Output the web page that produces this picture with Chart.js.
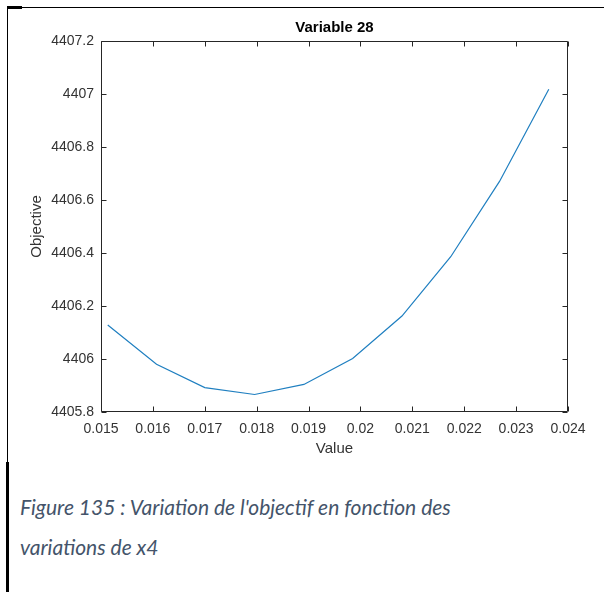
<!DOCTYPE html>
<html>
<head>
<meta charset="utf-8">
<script src="https://cdn.jsdelivr.net/npm/chart.js@4"></script>
<style>
  html, body { margin: 0; padding: 0; background: #fff; width: 604px; height: 592px; overflow: hidden; }
  #wrap { position: absolute; left: 0; top: 0; width: 604px; height: 470px; }
  .ln { position: absolute; background: #000; }
  .cap { position: absolute; left: 20px; font-family: Lato, "Open Sans", sans-serif; font-style: italic; font-size: 21px; line-height: 26px; color: #44546A; white-space: nowrap; }
</style>
</head>
<body>
<div class="ln" style="left:7px; top:7px; width:597px; height:1px;"></div>
<div class="ln" style="left:7px; top:6px; width:15px; height:3px;"></div>
<div class="ln" style="left:7px; top:7px; width:1px; height:455px;"></div>
<div class="ln" style="left:6px; top:462px; width:3px; height:130px;"></div>
<div id="wrap"><canvas id="c" width="604" height="470"></canvas></div>
<div class="cap" style="top:494px;">Figure 135 : Variation de l'objectif en fonction des</div>
<div class="cap" style="top:534px;">variations de x4</div>
<script>
const xValues = [0.01513, 0.01607, 0.01700, 0.01796, 0.01891, 0.01985, 0.02080, 0.02174, 0.02268, 0.02363];
const objective = [4406.128, 4405.980, 4405.892, 4405.866, 4405.904, 4406.002, 4406.162, 4406.386, 4406.670, 4407.018];
const xTicks = [0.015, 0.016, 0.017, 0.018, 0.019, 0.020, 0.021, 0.022, 0.023, 0.024];
const xTickLabels = ['0.015', '0.016', '0.017', '0.018', '0.019', '0.02', '0.021', '0.022', '0.023', '0.024'];
const yTicks = [4405.8, 4406.0, 4406.2, 4406.4, 4406.6, 4406.8, 4407.0, 4407.2];
const yTickLabels = ['4405.8', '4406', '4406.2', '4406.4', '4406.6', '4406.8', '4407', '4407.2'];

const axisColor = '#262626';
const tickFont = { family: '"Liberation Sans", Arial, sans-serif', size: 14 };
const titleFont = { family: '"Liberation Sans", Arial, sans-serif', size: 15 };

function labelFor(ticks, labels, v) {
  let best = 0;
  for (let i = 0; i < ticks.length; i++) if (Math.abs(ticks[i] - v) < Math.abs(ticks[best] - v)) best = i;
  return labels[best];
}

const boxPlugin = {
  id: 'matlabBox',
  afterDatasetsDraw(chart) {
    const { ctx, chartArea: a, scales } = chart;
    const L = Math.round(a.left) + 0.5, R = Math.round(a.right) - 0.5;
    const T = Math.round(a.top) + 0.5, B = Math.round(a.bottom) - 0.5;
    const tl = 5;
    ctx.save();
    ctx.strokeStyle = axisColor;
    ctx.lineWidth = 1;
    ctx.beginPath();
    ctx.rect(L, T, R - L, B - T);
    xTicks.forEach(v => {
      const px = Math.round(scales.x.getPixelForValue(v)) + 0.5;
      ctx.moveTo(px, B); ctx.lineTo(px, B - tl);
      ctx.moveTo(px, T); ctx.lineTo(px, T + tl);
    });
    yTicks.forEach(v => {
      const py = Math.round(scales.y.getPixelForValue(v)) + 0.5;
      ctx.moveTo(L, py); ctx.lineTo(L + tl, py);
      ctx.moveTo(R, py); ctx.lineTo(R - tl, py);
    });
    ctx.stroke();
    ctx.restore();
  }
};

new Chart(document.getElementById('c'), {
  type: 'scatter',
  data: {
    datasets: [{
      data: xValues.map((x, i) => ({ x: x, y: objective[i] })),
      showLine: true,
      borderColor: '#1f7fc0',
      borderWidth: 1.2,
      pointRadius: 0,
      tension: 0,
      fill: false
    }]
  },
  options: {
    responsive: false,
    animation: false,
    events: [],
    layout: { autoPadding: false, padding: { left: 0, right: 36, top: 0, bottom: 0 } },
    plugins: {
      legend: { display: false },
      tooltip: { enabled: false },
      title: {
        display: true,
        text: 'Variable 28',
        fullSize: false,
        color: '#000',
        font: { family: '"Liberation Sans", Arial, sans-serif', size: 15, weight: 'bold' },
        padding: { top: 19, bottom: 4 }
      }
    },
    scales: {
      x: {
        type: 'linear',
        min: xTicks[0],
        max: xTicks[xTicks.length - 1],
        afterBuildTicks: s => { s.ticks = xTicks.map(v => ({ value: v })); },
        afterFit: s => { s.height = 58; s.paddingLeft = 0; s.paddingRight = 0; },
        grid: { display: false, drawTicks: false },
        border: { display: false },
        ticks: { color: '#333', font: tickFont, padding: 9, maxRotation: 0, autoSkip: false,
                 callback: v => labelFor(xTicks, xTickLabels, v) },
        title: { display: true, text: 'Value', color: '#333', font: titleFont, padding: { top: 0, bottom: 12 } }
      },
      y: {
        type: 'linear',
        min: yTicks[0],
        max: yTicks[yTicks.length - 1],
        afterBuildTicks: s => { s.ticks = yTicks.map(v => ({ value: v })); },
        afterFit: s => { s.width = 101; s.paddingTop = 0; s.paddingBottom = 0; },
        grid: { display: false, drawTicks: false },
        border: { display: false },
        ticks: { color: '#333', font: tickFont, padding: 7, autoSkip: false,
                 callback: v => labelFor(yTicks, yTickLabels, v) },
        title: { display: true, text: 'Objective', color: '#333', font: titleFont, padding: { top: 28, bottom: 0 } }
      }
    }
  },
  plugins: [boxPlugin]
});
</script>
</body>
</html>
